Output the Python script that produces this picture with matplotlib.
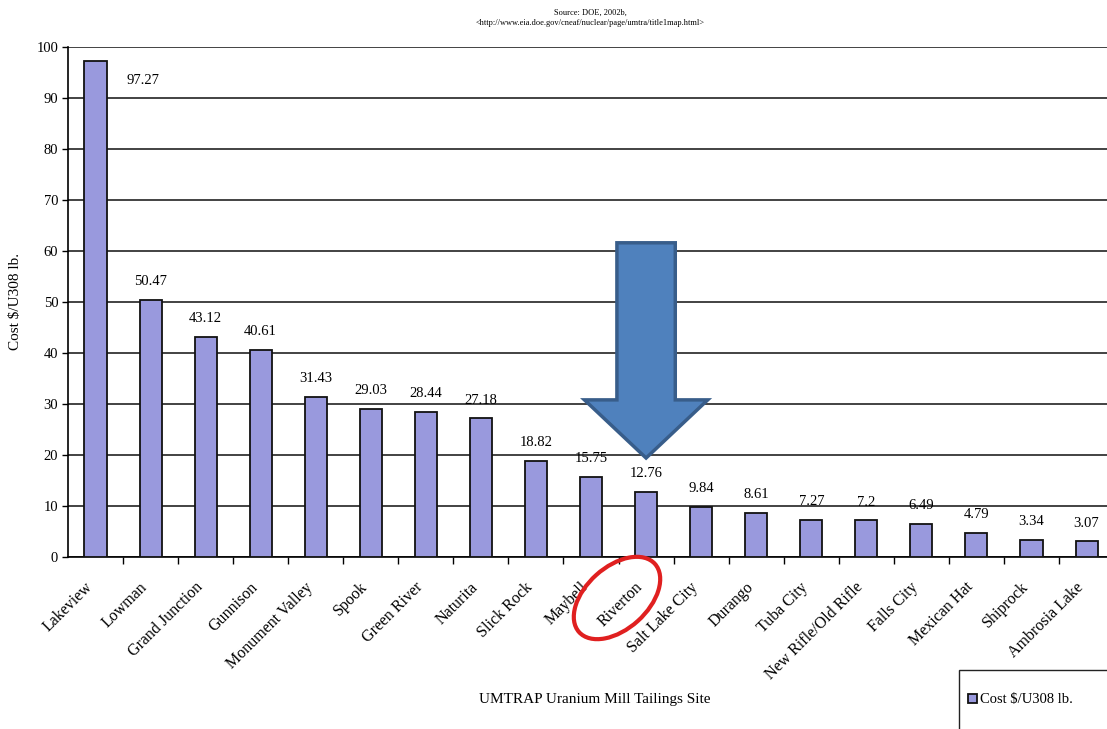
import matplotlib.pyplot as plt
import matplotlib.transforms as mtransforms
from matplotlib.patches import Ellipse, Rectangle, Polygon

plt.rcParams['font.family'] = ['Liberation Serif', 'DejaVu Serif']

sites = ['Lakeview', 'Lowman', 'Grand Junction', 'Gunnison', 'Monument Valley',
         'Spook', 'Green River', 'Naturita', 'Slick Rock', 'Maybell', 'Riverton',
         'Salt Lake City', 'Durango', 'Tuba City', 'New Rifle/Old Rifle',
         'Falls City', 'Mexican Hat', 'Shiprock', 'Ambrosia Lake']
cost = [97.27, 50.47, 43.12, 40.61, 31.43, 29.03, 28.44, 27.18, 18.82, 15.75,
        12.76, 9.84, 8.61, 7.27, 7.2, 6.49, 4.79, 3.34, 3.07]
value_labels = ['97.27', '50.47', '43.12', '40.61', '31.43', '29.03', '28.44',
                '27.18', '18.82', '15.75', '12.76', '9.84', '8.61', '7.27', '7.2',
                '6.49', '4.79', '3.34', '3.07']
yticks = list(range(0, 101, 10))

fig = plt.figure(figsize=(11.07, 7.29), dpi=100)
ax = fig.add_axes([0.0614, 0.236, 0.945, 0.6996])

x = list(range(len(sites)))
bars = ax.bar(x, cost, width=0.4, color='#9999dd', edgecolor='#111111',
              linewidth=1.3, zorder=3, label='Cost $/U308 lb.')

# value labels (first one sits beside the tall bar)
for i, (v, s) in enumerate(zip(cost, value_labels)):
    if i == 0:
        ax.annotate(s, (i, v), xytext=(22, -14), textcoords='offset points',
                    ha='left', va='center', fontsize=10.5)
    else:
        ax.annotate(s, (i, v), xytext=(0, 13), textcoords='offset points',
                    ha='center', va='center', fontsize=10.5)

ax.set_xlim(-0.5, len(sites) - 0.5)
ax.set_ylim(0, 100)
ax.set_yticks(yticks)
ax.yaxis.grid(True, color='#222222', linewidth=1.2, zorder=0)
ax.set_axisbelow(True)
ax.tick_params(axis='y', labelsize=10.5, length=4, width=1, direction='out', pad=3)

ax.set_xticks([i + 0.5 for i in x[:-1]], minor=False)
ax.set_xticklabels([])
ax.set_xticks(x, minor=True)
ax.set_xticklabels(sites, minor=True, rotation=45, ha='right',
                   rotation_mode='anchor', fontsize=11.5)
ax.tick_params(axis='x', which='major', length=5, width=1, direction='out')
ax.tick_params(axis='x', which='minor', length=0, pad=16)
shift = mtransforms.ScaledTranslation(-0.11, 0, fig.dpi_scale_trans)
for lab in ax.get_xticklabels(minor=True):
    lab.set_transform(lab.get_transform() + shift)

for side in ['top', 'right']:
    ax.spines[side].set_visible(False)
ax.spines['left'].set_linewidth(1.2)
ax.spines['bottom'].set_linewidth(1.2)

ax.set_ylabel('Cost $/U308 lb.', fontsize=11, labelpad=10)
fig.text(0.537, 0.04, 'UMTRAP Uranium Mill Tailings Site', ha='center',
         va='center', fontsize=11)

# source lines at top
fig.text(0.533, 0.983, 'Source: DOE, 2002b,', ha='center', va='center', fontsize=6)
fig.text(0.533, 0.968, '<http://www.eia.doe.gov/cneaf/nuclear/page/umtra/title1map.html>',
         ha='center', va='center', fontsize=6)

# big blue arrow pointing at Riverton
arrow_pts = [(9.47, 61.6), (10.53, 61.6), (10.53, 30.8), (11.12, 30.8),
             (10.0, 19.4), (8.88, 30.8), (9.47, 30.8)]
ax.add_patch(Polygon(arrow_pts, closed=True, facecolor='#4f81bd',
                     edgecolor='#385d8a', linewidth=2.5, zorder=5))

# red ellipse around Riverton label
fig.add_artist(Ellipse((6.17, 1.31), 1.02, 0.62, angle=42, fill=False,
                       edgecolor='#e02020', linewidth=3,
                       transform=fig.dpi_scale_trans))

# legend box, cut by the figure edge
fig.add_artist(Rectangle((0.866, -0.05), 0.2, 0.131, fill=False,
                         edgecolor='#222222', linewidth=1,
                         transform=fig.transFigure))
fig.legend(handles=[bars], loc='center left', bbox_to_anchor=(0.868, 0.04),
           frameon=False, fontsize=10.5, handlelength=0.6, handleheight=0.6,
           handletextpad=0.2, borderpad=0)

fig.savefig('out.png', dpi=100)
